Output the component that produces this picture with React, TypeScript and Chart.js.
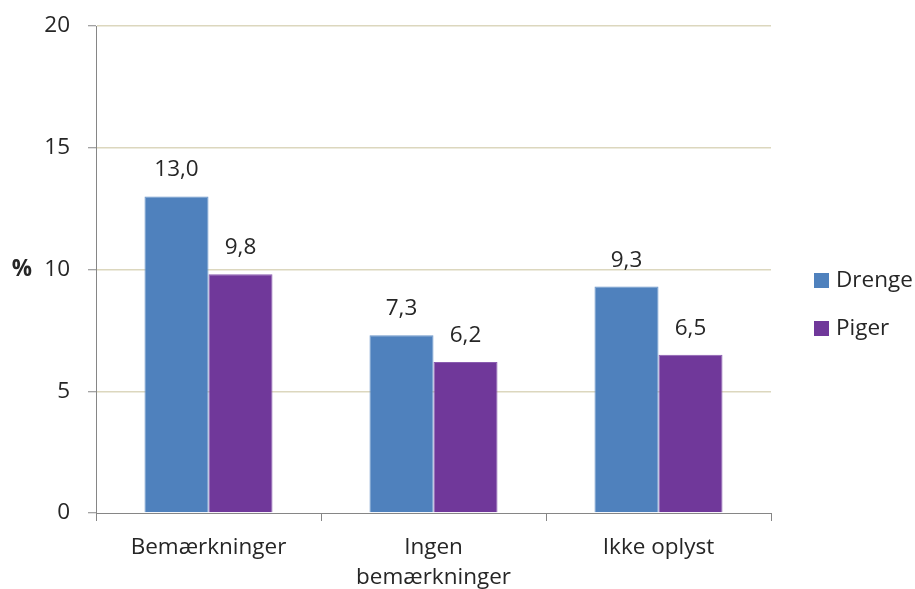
import React, { useEffect, useRef } from "react";
import { Chart, registerables } from "chart.js";

Chart.register(...registerables);

const categories: (string | string[])[] = ["Bemærkninger", ["Ingen", "bemærkninger"], "Ikke oplyst"];
const drenge = [13.0, 7.3, 9.3];
const piger = [9.8, 6.2, 6.5];
const yTicks = [0, 5, 10, 15, 20];

const FONT = "'Open Sans', sans-serif";
const TEXT = "#262626";
const AXIS = "#868686";
const GRID = "#DCD7BE";
const FS = 22.5;

const fmt = (v: number) => v.toFixed(1).replace(".", ",");

const dataLabelPlugin = {
  id: "dataLabels",
  afterDatasetsDraw(chart: any) {
    const ctx = chart.ctx;
    ctx.save();
    ctx.font = `${FS}px ${FONT}`;
    ctx.fillStyle = TEXT;
    ctx.textAlign = "center";
    ctx.textBaseline = "alphabetic";
    chart.data.datasets.forEach((ds: any, i: number) => {
      const meta = chart.getDatasetMeta(i);
      meta.data.forEach((bar: any, j: number) => {
        ctx.fillText(fmt(ds.data[j]), bar.x, bar.y - 20);
      });
    });
    ctx.restore();
  },
};

const extrasPlugin = {
  id: "extras",
  afterDraw(chart: any) {
    const ctx = chart.ctx;
    const area = chart.chartArea;
    ctx.save();
    ctx.font = `bold ${FS}px ${FONT}`;
    ctx.fillStyle = TEXT;
    ctx.textAlign = "center";
    ctx.textBaseline = "middle";
    ctx.fillText("%", 22, (area.top + area.bottom) / 2);
    ctx.font = `${FS}px ${FONT}`;
    ctx.textAlign = "left";
    chart.data.datasets.forEach((ds: any, i: number) => {
      const cy = 281 + i * 48;
      ctx.fillStyle = ds.backgroundColor;
      ctx.fillRect(814, cy - 8, 15, 15);
      ctx.fillStyle = TEXT;
      ctx.fillText(ds.label, 836, cy);
    });
    ctx.restore();
  },
};

export default function App() {
  const ref = useRef<HTMLCanvasElement | null>(null);

  useEffect(() => {
    document.body.style.margin = "0";
    const canvas = ref.current!;
    const chart = new Chart(canvas, {
      type: "bar",
      data: {
        labels: categories,
        datasets: [
          {
            label: "Drenge",
            data: drenge,
            backgroundColor: "#4F81BD",
            borderColor: "#6A95C9",
            borderWidth: 1,
            categoryPercentage: 0.569,
            barPercentage: 1,
          },
          {
            label: "Piger",
            data: piger,
            backgroundColor: "#70389A",
            borderColor: "#8A5CB0",
            borderWidth: 1,
            categoryPercentage: 0.569,
            barPercentage: 1,
          },
        ],
      },
      options: {
        animation: false,
        responsive: false,
        maintainAspectRatio: false,
        layout: { padding: { top: 26, right: 144, left: 0, bottom: 0 } },
        plugins: {
          legend: { display: false },
          tooltip: { enabled: false },
        },
        scales: {
          x: {
            offset: true,
            grid: {
              offset: true,
              drawOnChartArea: false,
              drawTicks: true,
              tickLength: 8,
              tickColor: AXIS,
              tickWidth: 1,
            },
            border: { color: AXIS, width: 1 },
            ticks: {
              color: TEXT,
              font: { family: FONT, size: FS, lineHeight: 1.36 },
              padding: 11,
              maxRotation: 0,
              autoSkip: false,
            },
            afterFit(scale: any) {
              scale.height = 76;
            },
          },
          y: {
            min: 0,
            max: 20,
            afterBuildTicks(scale: any) {
              scale.ticks = yTicks.map((v) => ({ value: v }));
            },
            grid: {
              color: (c: any) => (c.tick && c.tick.value === 0 ? "rgba(0,0,0,0)" : GRID),
              lineWidth: 1.5,
              tickLength: 8,
              tickColor: AXIS,
              tickWidth: 1,
            },
            border: { color: AXIS, width: 1 },
            ticks: {
              color: TEXT,
              font: { family: FONT, size: FS },
              padding: 18,
              callback: (v: any) => String(v),
            },
            afterFit(scale: any) {
              scale.width = 96;
              scale.paddingTop = 0;
            },
          },
        },
      },
      plugins: [dataLabelPlugin, extrasPlugin],
    });
    return () => chart.destroy();
  }, []);

  return <canvas ref={ref} width={915} height={589} style={{ display: "block" }} />;
}
